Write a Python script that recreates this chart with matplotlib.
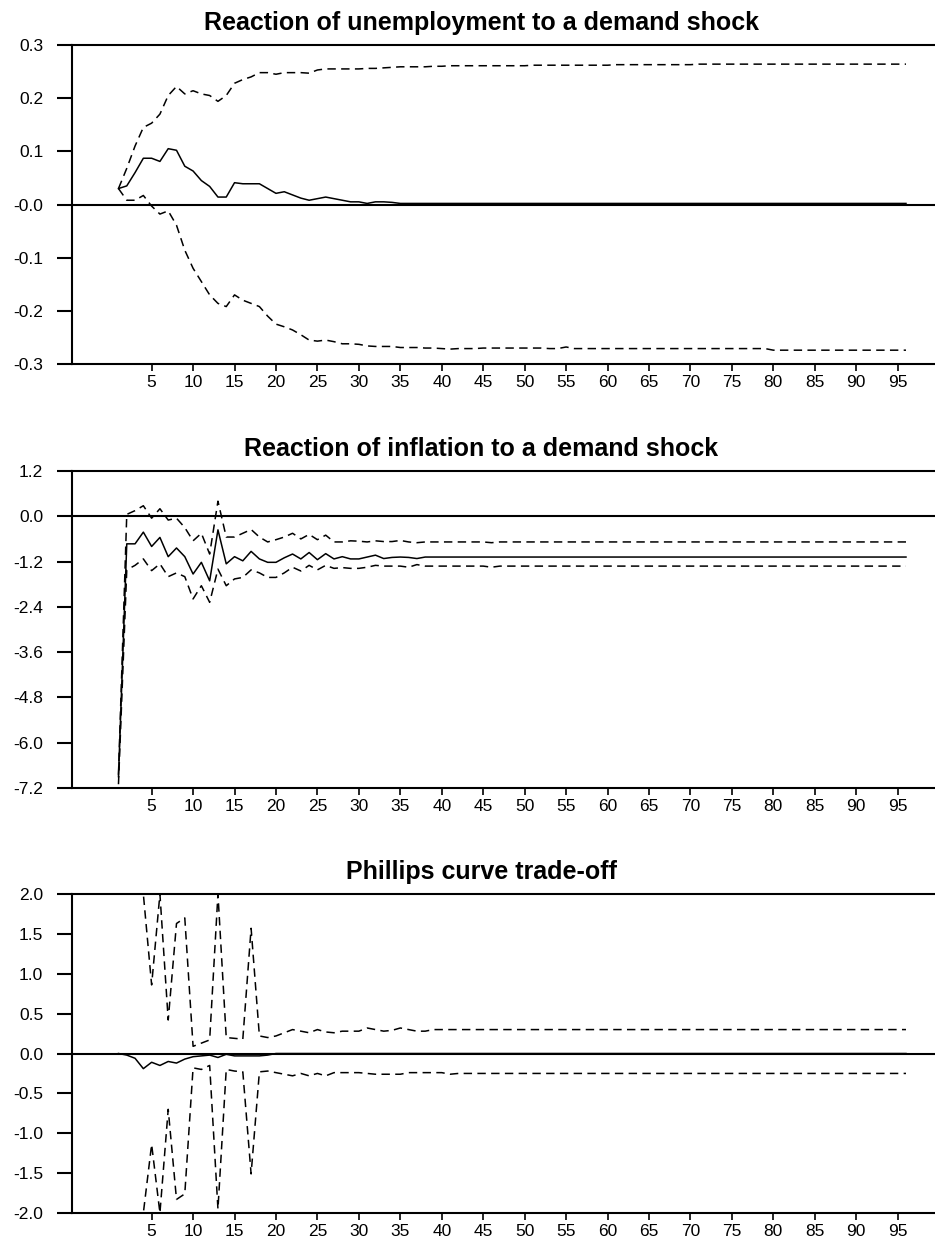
import numpy as np
import matplotlib
matplotlib.use("Agg")
import matplotlib.pyplot as plt

plt.rcParams['font.family'] = ['Liberation Sans', 'DejaVu Sans']

# ---------------- data ----------------
periods = list(range(1, 97))

unemp_mid = [0.030, 0.035, 0.060, 0.087, 0.087, 0.081, 0.105, 0.102, 0.072, 0.063,
             0.045, 0.034, 0.014, 0.014, 0.041, 0.039, 0.039, 0.039, 0.030, 0.021,
             0.024, 0.018, 0.012, 0.008, 0.011, 0.014, 0.011, 0.008, 0.005, 0.005,
             0.002, 0.005, 0.005, 0.004, 0.002, 0.002, 0.002, 0.002, 0.002, 0.002,
             0.002, 0.002, 0.002, 0.002, 0.002, 0.002, 0.002, 0.002, 0.002, 0.002,
             0.002, 0.002, 0.002, 0.002, 0.002, 0.002, 0.002, 0.002, 0.002, 0.002,
             0.002, 0.002, 0.002, 0.002, 0.002, 0.002, 0.002, 0.002, 0.002, 0.002,
             0.002, 0.002, 0.002, 0.002, 0.002, 0.002, 0.002, 0.002, 0.002, 0.002,
             0.002, 0.002, 0.002, 0.002, 0.002, 0.002, 0.002, 0.002, 0.002, 0.002,
             0.002, 0.002, 0.002, 0.002, 0.002, 0.002]
unemp_up = [0.030, 0.068, 0.110, 0.145, 0.153, 0.170, 0.205, 0.222, 0.208, 0.214,
            0.208, 0.205, 0.194, 0.205, 0.228, 0.235, 0.240, 0.248, 0.248, 0.245,
            0.248, 0.248, 0.248, 0.247, 0.253, 0.255, 0.255, 0.255, 0.255, 0.255,
            0.256, 0.256, 0.257, 0.258, 0.259, 0.259, 0.259, 0.259, 0.260, 0.260,
            0.261, 0.261, 0.261, 0.261, 0.261, 0.261, 0.261, 0.261, 0.261, 0.261,
            0.262, 0.262, 0.262, 0.262, 0.262, 0.262, 0.262, 0.262, 0.262, 0.262,
            0.263, 0.263, 0.263, 0.263, 0.263, 0.263, 0.263, 0.263, 0.263, 0.263,
            0.264, 0.264, 0.264, 0.264, 0.264, 0.264, 0.264, 0.264, 0.264, 0.264,
            0.264, 0.264, 0.264, 0.264, 0.264, 0.264, 0.264, 0.264, 0.264, 0.264,
            0.264, 0.264, 0.264, 0.264, 0.264, 0.264]
unemp_lo = [0.030, 0.008, 0.008, 0.017, -0.003, -0.018, -0.012, -0.039, -0.086, -0.120,
            -0.145, -0.170, -0.186, -0.192, -0.170, -0.180, -0.186, -0.192, -0.210, -0.225,
            -0.230, -0.236, -0.245, -0.255, -0.257, -0.255, -0.258, -0.262, -0.262, -0.263,
            -0.266, -0.267, -0.267, -0.267, -0.269, -0.269, -0.269, -0.270, -0.270, -0.271,
            -0.272, -0.271, -0.271, -0.271, -0.270, -0.270, -0.270, -0.270, -0.270, -0.270,
            -0.270, -0.270, -0.271, -0.271, -0.268, -0.271, -0.271, -0.271, -0.271, -0.271,
            -0.271, -0.271, -0.271, -0.271, -0.271, -0.271, -0.271, -0.271, -0.271, -0.271,
            -0.271, -0.271, -0.271, -0.271, -0.271, -0.271, -0.271, -0.271, -0.271, -0.274,
            -0.274, -0.274, -0.274, -0.274, -0.274, -0.274, -0.274, -0.274, -0.274, -0.274,
            -0.274, -0.274, -0.274, -0.274, -0.274, -0.274]

infl_mid = [-6.90, -0.73, -0.73, -0.42, -0.80, -0.56, -1.07, -0.84, -1.07, -1.53,
            -1.22, -1.71, -0.36, -1.26, -1.07, -1.18, -0.93, -1.13, -1.22, -1.22,
            -1.10, -1.00, -1.13, -0.96, -1.15, -0.99, -1.13, -1.07, -1.13, -1.13,
            -1.08, -1.03, -1.12, -1.09, -1.08, -1.09, -1.12, -1.08, -1.08, -1.08,
            -1.08, -1.08, -1.08, -1.08, -1.08, -1.08, -1.08, -1.08, -1.08, -1.08,
            -1.08, -1.08, -1.08, -1.08, -1.08, -1.08, -1.08, -1.08, -1.08, -1.08,
            -1.08, -1.08, -1.08, -1.08, -1.08, -1.08, -1.08, -1.08, -1.08, -1.08,
            -1.08, -1.08, -1.08, -1.08, -1.08, -1.08, -1.08, -1.08, -1.08, -1.08,
            -1.08, -1.08, -1.08, -1.08, -1.08, -1.08, -1.08, -1.08, -1.08, -1.08,
            -1.08, -1.08, -1.08, -1.08, -1.08, -1.08]
infl_up = [-6.85, 0.05, 0.15, 0.28, -0.05, 0.20, -0.10, -0.05, -0.30, -0.65,
           -0.45, -1.00, 0.40, -0.55, -0.55, -0.45, -0.35, -0.55, -0.68, -0.62,
           -0.55, -0.45, -0.60, -0.48, -0.62, -0.50, -0.68, -0.68, -0.65, -0.66,
           -0.68, -0.65, -0.67, -0.67, -0.64, -0.68, -0.70, -0.68, -0.68, -0.68,
           -0.68, -0.68, -0.68, -0.68, -0.68, -0.70, -0.68, -0.68, -0.68, -0.68,
           -0.68, -0.68, -0.68, -0.68, -0.68, -0.68, -0.68, -0.68, -0.68, -0.68,
           -0.68, -0.68, -0.68, -0.68, -0.68, -0.68, -0.68, -0.68, -0.68, -0.68,
           -0.68, -0.68, -0.68, -0.68, -0.68, -0.68, -0.68, -0.68, -0.68, -0.68,
           -0.68, -0.68, -0.68, -0.68, -0.68, -0.68, -0.68, -0.68, -0.68, -0.68,
           -0.68, -0.68, -0.68, -0.68, -0.68, -0.68]
infl_lo = [-7.10, -1.42, -1.30, -1.13, -1.44, -1.26, -1.60, -1.50, -1.60, -2.19,
           -1.84, -2.28, -1.40, -1.84, -1.66, -1.62, -1.42, -1.50, -1.62, -1.62,
           -1.50, -1.35, -1.45, -1.30, -1.42, -1.30, -1.38, -1.36, -1.38, -1.38,
           -1.35, -1.30, -1.32, -1.32, -1.32, -1.35, -1.28, -1.32, -1.32, -1.32,
           -1.32, -1.32, -1.32, -1.32, -1.32, -1.35, -1.32, -1.32, -1.32, -1.32,
           -1.32, -1.32, -1.32, -1.32, -1.32, -1.32, -1.32, -1.32, -1.32, -1.32,
           -1.32, -1.32, -1.32, -1.32, -1.32, -1.32, -1.32, -1.32, -1.32, -1.32,
           -1.32, -1.32, -1.32, -1.32, -1.32, -1.32, -1.32, -1.32, -1.32, -1.32,
           -1.32, -1.32, -1.32, -1.32, -1.32, -1.32, -1.32, -1.32, -1.32, -1.32,
           -1.32, -1.32, -1.32, -1.32, -1.32, -1.32]

phil_mid = [0.00, -0.02, -0.06, -0.19, -0.11, -0.15, -0.10, -0.12, -0.07, -0.04,
            -0.03, -0.02, -0.05, -0.01, -0.03, -0.03, -0.03, -0.03, -0.02, 0.00,
            0.00, 0.00, 0.00, 0.00, 0.00, 0.00, 0.00, 0.00, 0.00, 0.00,
            0.00, 0.00, 0.00, 0.00, 0.00, 0.00, 0.00, 0.00, 0.00, 0.00,
            0.00, 0.00, 0.00, 0.00, 0.00, 0.00, 0.00, 0.00, 0.00, 0.00,
            0.00, 0.00, 0.00, 0.00, 0.00, 0.00, 0.00, 0.00, 0.00, 0.00,
            0.00, 0.00, 0.00, 0.00, 0.00, 0.00, 0.00, 0.00, 0.00, 0.00,
            0.00, 0.00, 0.00, 0.00, 0.00, 0.00, 0.00, 0.00, 0.00, 0.00,
            0.00, 0.00, 0.00, 0.00, 0.00, 0.00, 0.00, 0.00, 0.00, 0.00,
            0.00, 0.00, 0.00, 0.00, 0.00, 0.00]
phil_up = [4.00, 4.00, 4.00, 4.00, 0.86, 4.00, 0.42, 1.63, 1.70, 0.09,
           0.13, 0.17, 4.00, 0.20, 0.19, 0.18, 1.57, 0.22, 0.20, 0.22,
           0.26, 0.30, 0.28, 0.26, 0.30, 0.27, 0.26, 0.28, 0.28, 0.28,
           0.32, 0.30, 0.28, 0.29, 0.32, 0.30, 0.28, 0.28, 0.30, 0.30,
           0.30, 0.30, 0.30, 0.30, 0.30, 0.30, 0.30, 0.30, 0.30, 0.30,
           0.30, 0.30, 0.30, 0.30, 0.30, 0.30, 0.30, 0.30, 0.30, 0.30,
           0.30, 0.30, 0.30, 0.30, 0.30, 0.30, 0.30, 0.30, 0.30, 0.30,
           0.30, 0.30, 0.30, 0.30, 0.30, 0.30, 0.30, 0.30, 0.30, 0.30,
           0.30, 0.30, 0.30, 0.30, 0.30, 0.30, 0.30, 0.30, 0.30, 0.30,
           0.30, 0.30, 0.30, 0.30, 0.30, 0.30]
phil_lo = [-4.00, -4.00, -4.00, -4.00, -1.14, -4.00, -0.70, -1.83, -1.76, -0.18,
           -0.20, -0.15, -1.95, -0.20, -0.22, -0.23, -1.51, -0.23, -0.22, -0.24,
           -0.26, -0.28, -0.25, -0.28, -0.25, -0.28, -0.24, -0.24, -0.24, -0.24,
           -0.25, -0.26, -0.26, -0.26, -0.26, -0.24, -0.24, -0.24, -0.24, -0.24,
           -0.26, -0.25, -0.25, -0.25, -0.25, -0.25, -0.25, -0.25, -0.25, -0.25,
           -0.25, -0.25, -0.25, -0.25, -0.25, -0.25, -0.25, -0.25, -0.25, -0.25,
           -0.25, -0.25, -0.25, -0.25, -0.25, -0.25, -0.25, -0.25, -0.25, -0.25,
           -0.25, -0.25, -0.25, -0.25, -0.25, -0.25, -0.25, -0.25, -0.25, -0.25,
           -0.25, -0.25, -0.25, -0.25, -0.25, -0.25, -0.25, -0.25, -0.25, -0.25,
           -0.25, -0.25, -0.25, -0.25, -0.25, -0.25]

titles = ["Reaction of unemployment to a demand shock",
          "Reaction of inflation to a demand shock",
          "Phillips curve trade-off"]

x_ticks = list(range(5, 100, 5))
y1_ticks = [0.3, 0.2, 0.1, 0.0, -0.1, -0.2, -0.3]
y1_labels = ["0.3", "0.2", "0.1", "-0.0", "-0.1", "-0.2", "-0.3"]
y2_ticks = [1.2, 0.0, -1.2, -2.4, -3.6, -4.8, -6.0, -7.2]
y2_labels = ["1.2", "0.0", "-1.2", "-2.4", "-3.6", "-4.8", "-6.0", "-7.2"]
y3_ticks = [2.0, 1.5, 1.0, 0.5, 0.0, -0.5, -1.0, -1.5, -2.0]
y3_labels = ["2.0", "1.5", "1.0", "0.5", "0.0", "-0.5", "-1.0", "-1.5", "-2.0"]

# ---------------- figure ----------------
W, H = 935, 1238
fig = plt.figure(figsize=(W / 100, H / 100), dpi=100)

left = 72.3 / W
panels = [
    (45, 364, unemp_mid, unemp_up, unemp_lo, y1_ticks, y1_labels, (-0.3, 0.3), None),
    (471, 788, infl_mid, infl_up, infl_lo, y2_ticks, y2_labels, (-7.2, 1.2), None),
    (894, 1213, phil_mid, phil_up, phil_lo, y3_ticks, y3_labels, (-2.0, 2.0), (-2.0, 2.0)),
]

for i, (top, bot, mid, up, lo, yt, yl, ylim, clip) in enumerate(panels):
    ax = fig.add_axes([left, 1 - bot / H, 1 - left, (bot - top) / H])
    up_a = np.array(up)
    lo_a = np.array(lo)
    mid_a = np.array(mid)
    if clip is not None:
        up_a = np.clip(up_a, clip[0], clip[1])
        lo_a = np.clip(lo_a, clip[0], clip[1])
        mid_a = np.clip(mid_a, clip[0], clip[1])
    ax.axhline(0, color='black', lw=1.5, zorder=1)
    ax.plot(periods, mid_a, color='black', lw=1.1, zorder=3)
    ax.plot(periods, up_a, color='black', lw=1.1, ls=(0, (5.5, 3.5)), zorder=3)
    ax.plot(periods, lo_a, color='black', lw=1.1, ls=(0, (5.5, 3.5)), zorder=3)
    ax.set_xlim(-4.57, 99.5)
    ax.set_ylim(*ylim)
    ax.set_xticks(x_ticks)
    ax.set_xticklabels([str(v) for v in x_ticks])
    ax.set_yticks(yt)
    ax.set_yticklabels(yl)
    for s in ['left', 'top', 'bottom']:
        ax.spines[s].set_linewidth(1.5)
    ax.spines['right'].set_visible(False)
    ax.tick_params(axis='y', direction='out', length=10.5, width=1.5, pad=10.5,
                   labelsize=12.5)
    ax.tick_params(axis='x', direction='out', length=5, width=1.2, pad=3,
                   labelsize=12.5)
    ax.set_title(titles[i], fontsize=18, fontweight='bold', x=(481 - 72.3) / (W - 72.3),
                 pad=10.5)

fig.savefig("out.png", dpi=100)
